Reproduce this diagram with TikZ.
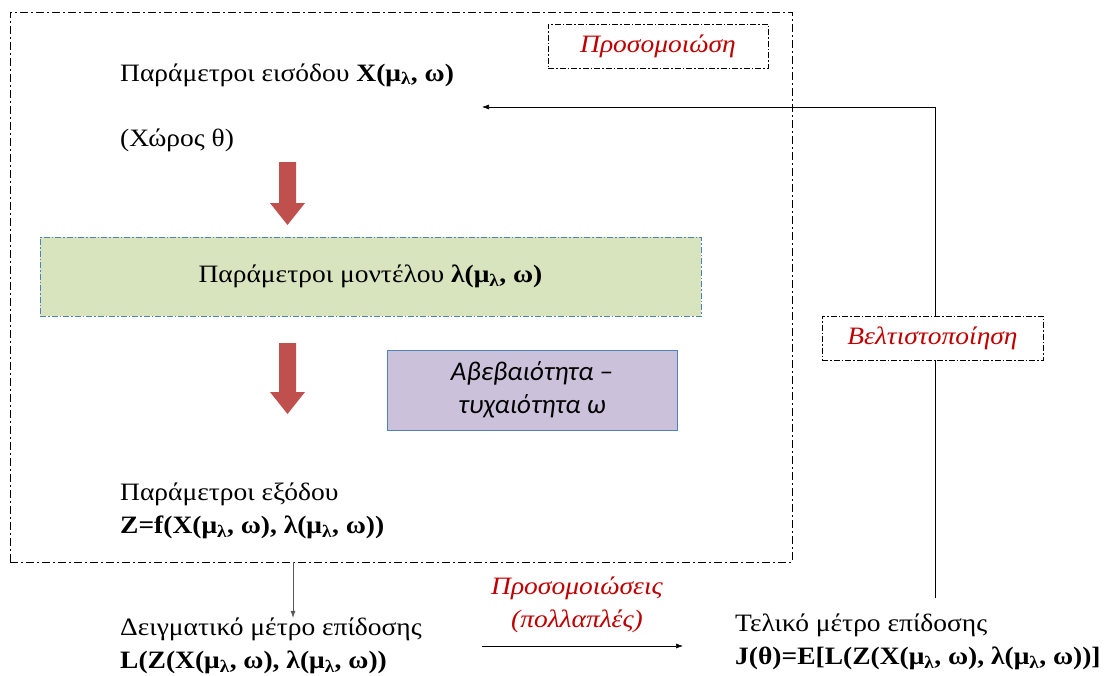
\documentclass[tikz,border=0pt]{standalone}
\usepackage{fontspec}
\setmainfont[FakeStretch=1.1]{Liberation Serif}
\newfontfamily\boxfont{Carlito}
\usetikzlibrary{arrows.meta}
\definecolor{labelred}{HTML}{C00000}
\definecolor{arrowred}{HTML}{C0504D}
\definecolor{modelgreen}{HTML}{D7E4BD}
\definecolor{noisepurple}{HTML}{CCC1DA}
\definecolor{edgeblue}{HTML}{4F81BD}
\newcommand{\mulam}{μ\textsubscript{λ}}
\begin{document}
\begin{tikzpicture}[x=1pt, y=-1pt,
    txt/.style = {anchor=west, align=left, inner sep=0pt, font=\fontsize{25}{33}\selectfont},
    tag/.style = {draw, dash pattern=on 6pt off 2pt on 1.5pt off 2pt, fill=white, text=labelred,
        font=\fontsize{25}{33}\selectfont\itshape, minimum height=44, inner xsep=8pt},
    frame/.style = {draw, dash pattern=on 8pt off 3pt on 2pt off 3pt},
    thinarrow/.style = {-{Latex[length=7pt,width=5pt]}, line width=0.6pt}]
    \useasboundingbox (0,0) rectangle (1105,675);

    % simulation frame
    \node[frame, minimum width=782, minimum height=550, inner sep=0pt] (sim) at (401,287) {};
    \node[tag, minimum width=220] (simtag) at (658,46) {Προσομοιώση};

    \node[txt] (input) at (120,75) {Παράμετροι εισόδου \textbf{X(\mulam, ω)}};
    \node[txt] (space) at (120,140) {(Χώρος θ)};

    \fill[arrowred] (279,162) -- (296,162) -- (296,203) -- (305,203) -- (287.5,225)
        -- (270,203) -- (279,203) -- cycle;

    \node[draw=edgeblue, dash pattern=on 6pt off 2pt on 1.5pt off 2pt, fill=modelgreen,
        minimum width=661, minimum height=79, font=\fontsize{25}{33}\selectfont] (model) at (370.5,276.5)
        {Παράμετροι μοντέλου \textbf{λ(\mulam, ω)}};

    \fill[arrowred] (279,343) -- (296,343) -- (296,392) -- (305,392) -- (287.5,414)
        -- (270,392) -- (279,392) -- cycle;

    \node[draw=edgeblue, fill=noisepurple, minimum width=290, minimum height=80, align=center,
        font=\fontsize{27}{33}\selectfont\boxfont\itshape] (noise) at (532,390)
        {Αβεβαιότητα –\\τυχαιότητα ω};

    \node[txt] (output) at (120,511) {Παράμετροι εξόδου\\\textbf{Z=f(X(\mulam, ω), λ(\mulam, ω))}};

    % performance measures
    \node[txt] (sample) at (120,646) {Δειγματικό μέτρο επίδοσης\\\textbf{L(Z(X(\mulam, ω), λ(\mulam, ω))}};
    \node[txt] (final) at (735,642) {Τελικό μέτρο επίδοσης\\\textbf{J(θ)=E[L(Z(X(\mulam, ω), λ(\mulam, ω))]}};
    \node[txt, anchor=center, align=center, text=labelred, font=\fontsize{25}{33}\selectfont\itshape]
        (runs) at (577,605) {Προσομοιώσεις\\(πολλαπλές)};

    \coordinate (outtop) at (293,562);
    \coordinate (runsL) at (482,646);
    \coordinate (runsR) at (683,646);
    \coordinate (loopstart) at (935,598);
    \coordinate (loopend) at (482,107);

    \draw[thinarrow, draw=black!65] (outtop) -- (outtop |- sample.north);
    \draw[thinarrow] (runsL) -- (runsR);
    \draw[thinarrow] (loopstart) |- (loopend);

    \node[tag, minimum width=221] (opt) at (932.5,338) {Βελτιστοποίηση};
\end{tikzpicture}
\end{document}
